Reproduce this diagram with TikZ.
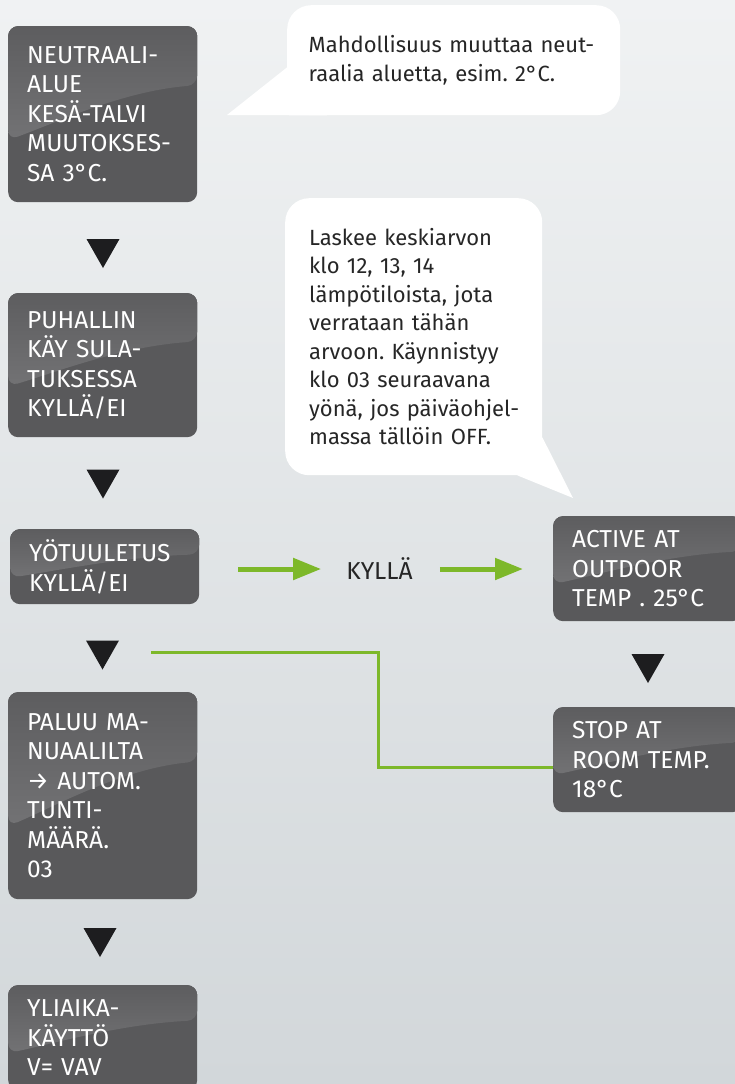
\documentclass[tikz,border=0pt]{standalone}
\usepackage{fontspec}
\setmainfont{Fira Sans}
\usetikzlibrary{positioning,calc,arrows.meta}
\definecolor{bgtop}{HTML}{F0F2F3}
\definecolor{bgbot}{HTML}{D2D7DA}
\definecolor{panelgray}{HTML}{59595B}
\definecolor{paneltop}{HTML}{5D5D5F}
\definecolor{panelhi}{HTML}{7E7E80}
\definecolor{vgreen}{HTML}{7DB82A}
\definecolor{markblack}{HTML}{1D1D1F}
\newcommand{\boxfont}{\fontsize{24.5}{29.5}\selectfont\frenchspacing}
\newcommand{\tipfont}{\fontsize{22}{28.5}\selectfont\frenchspacing\exhyphenpenalty=10000\hbadness=10000\hfuzz=20pt}
\tikzset{
  dbox/.style={fill=panelgray, rounded corners=10pt, text=white, align=left,
    anchor=north west, inner xsep=19pt, inner ysep=0pt, text width=151pt,
    font=\boxfont,
    path picture={
      \fill[top color=paneltop, bottom color=panelhi]
        let \p1=(path picture bounding box.north west),
            \p2=(path picture bounding box.south east),
            \n1={\x2-\x1}, \n2={\y1-\y2} in
        (\x1,\y1) -- (\x2,\y1) -- (\x2,\y1-0.335*\n2)
        .. controls (\x1+0.6*\n1,\y1-0.37*\n2) and (\x1+0.25*\n1,\y1-0.55*\n2)
        .. (\x1,\y1-0.647*\n2) -- cycle;
    }},
  tipbox/.style={fill=white, rounded corners=24pt, anchor=north west, align=left,
    inner ysep=0pt, text=black!85, font=\tipfont},
  go/.style={-{Triangle[length=28pt,width=21pt]}, line width=5pt, draw=vgreen},
  glink/.style={line width=3pt, draw=vgreen},
  downmark/.pic={\fill[markblack] (-16.5,14.5) -- (16.5,14.5) -- (0,-14.5) -- cycle;},
}

\begin{document}
\begin{tikzpicture}[x=1pt,y=1pt]
  \useasboundingbox (0,0) rectangle (735,-1084);
  \clip (0,0) rectangle (735,-1084);
  \fill[top color=bgtop, bottom color=bgbot] (0,0) rectangle (735,-1084);
  % left column
  \node[dbox, minimum width=189pt, minimum height=176pt] (neutral) at (8,-26)
    {NEUTRAALI-\\ALUE\\KESÄ-TALVI\\MUUTOKSES-\\SA 3°C.};
  \node[dbox, minimum width=189pt, minimum height=144pt] (fan) at (8,-293)
    {PUHALLIN\\KÄY SULA-\\TUKSESSA\\KYLLÄ/EI};
  \node[dbox, minimum width=189pt, minimum height=75pt] (night) at (10,-529)
    {YÖTUULETUS\\KYLLÄ/EI};
  \node[dbox, minimum width=189pt, minimum height=207pt] (manual) at (8,-692)
    {PALUU MA-\\NUAALILTA\\→ AUTOM.\\TUNTI-\\MÄÄRÄ.\\03};
  \node[dbox, minimum width=189pt, minimum height=105pt] (overtime) at (8,-985)
    {YLIAIKA-\\KÄYTTÖ\\V= VAV};
  \pic at (103,-253.5) {downmark};
  \pic at (103,-484) {downmark};
  \pic at (102.5,-655) {downmark};
  \pic at (100,-942.5) {downmark};
  % right column
  \node[dbox, minimum width=189pt, minimum height=105pt] (active) at (553,-516)
    {ACTIVE AT\\OUTDOOR\\TEMP . 25°C};
  \node[dbox, minimum width=189pt, minimum height=105pt] (stop) at (553,-707)
    {STOP AT\\ROOM TEMP.\\18°C};
  \pic at (648,-668.5) {downmark};
  % night ventilation branch
  \node[font=\boxfont, text=black!85, inner sep=0pt] (kyl) at (379.5,-569) {KYLLÄ};
  \draw[go, shorten <=39pt, shorten >=25pt] (night.east |- kyl.west) -- (kyl.west);
  \draw[go, shorten <=27pt, shorten >=30pt] (kyl.east) -- (kyl.east -| active.west);
  \coordinate (gstart) at (151,-652);
  \draw[glink] (gstart) -- (378,-652) |- ([yshift=-8pt]stop.west);
  % speech bubbles
  \node[tipbox, minimum width=333pt, minimum height=110pt, inner xsep=21.5pt,
    text width=290pt] (tip1) at (287,-5)
    {Mahdollisuus~muuttaa~neut-\\raalia aluetta, esim. 2°C.};
  \fill[white] ($(tip1.south west)+(0,48)$) -- (227,-115)
    -- ($(tip1.south west)+(40,0)$) -- cycle;
  \node[tipbox, minimum width=257pt, minimum height=277pt, inner xsep=24pt,
    text width=209pt] (tip2) at (285,-198)
    {Laskee keskiarvon\\klo 12, 13, 14\\lämpötiloista, jota\\verrataan tähän\\arvoon.~Käynnistyy\\klo 03 seuraavana\\yönä,~jos~päiväohjel-\\massa tällöin OFF.};
  \fill[white] ($(tip2.south east)+(0,38)$) -- (573,-498)
    -- ($(tip2.south east)+(-25,0)$) -- cycle;
\end{tikzpicture}
\end{document}
